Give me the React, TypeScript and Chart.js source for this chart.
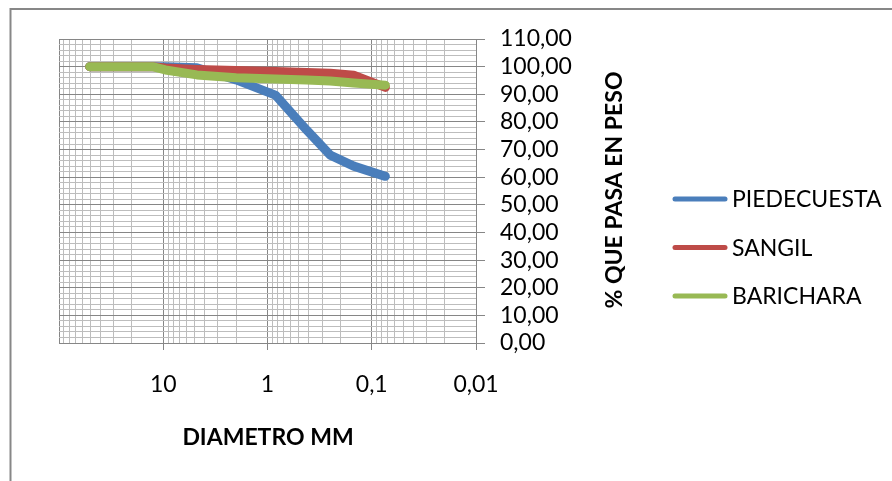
import { useEffect, useRef } from 'react';
import { Chart, registerables } from 'chart.js';

Chart.register(...registerables);

// ---- data ----
const sieveSizesMm = [50.8, 38.1, 25.4, 19.05, 12.7, 9.53, 4.76, 2.0, 0.84, 0.42, 0.25, 0.149, 0.074];
const piedecuesta = [100, 100, 100, 100, 100, 100, 99.6, 95.2, 89.7, 77, 68, 64, 60.3];
const sangil = [100, 100, 100, 100, 100, 99.5, 99, 98.6, 98.2, 97.9, 97.6, 96.9, 92.5];
const barichara = [100, 100, 100, 100, 100, 98.8, 97, 96, 95.5, 95.2, 94.8, 94.1, 93.3];
const seriesNames = ['PIEDECUESTA', 'SANGIL', 'BARICHARA'];
const seriesColors = ['#4a7ebb', '#be4b48', '#98b954'];
const xDecadeTicks = [100, 10, 1, 0.1, 0.01];
const xDecadeLabels = ['', '10', '1', '0,1', '0,01'];
const yMin = 0;
const yMax = 110;
const yMajorStep = 10;
const yMinorStep = 2;
const xTitle = 'DIAMETRO MM';
const yTitle = '% QUE PASA EN PESO';

const FONT = 'Lato, "Open Sans", sans-serif';
const MAJOR = '#868686';
const MINOR = '#bdbdbd';

const isDecade = (v: number) => {
  const l = Math.log10(v);
  return Math.abs(l - Math.round(l)) < 1e-9;
};

const buildXTicks = () => {
  const ticks: { value: number; major: boolean }[] = [];
  const decades = [...xDecadeTicks].sort((a, b) => a - b);
  for (let i = 0; i < decades.length; i++) {
    const d = decades[i];
    ticks.push({ value: d, major: true });
    if (i < decades.length - 1) {
      for (let m = 2; m <= 9; m++) ticks.push({ value: d * m, major: false });
    }
  }
  return ticks;
};

const buildYTicks = () => {
  const ticks: { value: number; major: boolean }[] = [];
  for (let v = yMin; v <= yMax; v += yMinorStep) ticks.push({ value: v, major: v % yMajorStep === 0 });
  return ticks;
};

const xLabel = (v: number) => {
  for (let i = 0; i < xDecadeTicks.length; i++) {
    if (Math.abs(Math.log10(v) - Math.log10(xDecadeTicks[i])) < 1e-6) return xDecadeLabels[i];
  }
  return '';
};

const decorPlugin = {
  id: 'decor',
  beforeDraw(chart: any) {
    const { ctx, width, height } = chart;
    ctx.save();
    ctx.fillStyle = '#ffffff';
    ctx.fillRect(0, 0, width, height);
    ctx.strokeStyle = '#878787';
    ctx.lineWidth = 2;
    ctx.beginPath();
    ctx.moveTo(10.5, height);
    ctx.lineTo(10.5, 9);
    ctx.lineTo(width, 9);
    ctx.stroke();
    ctx.restore();
  },
  afterDraw(chart: any) {
    const { ctx } = chart;
    ctx.save();
    ctx.fillStyle = '#000';
    // x title
    ctx.font = `bold 23px ${FONT}`;
    ctx.textAlign = 'center';
    ctx.textBaseline = 'alphabetic';
    ctx.fillText(xTitle, 268, 445);
    // y title
    ctx.save();
    ctx.translate(622, 190);
    ctx.rotate(-Math.PI / 2);
    ctx.fillText(yTitle, 0, 0);
    ctx.restore();
    // legend
    ctx.font = `23px ${FONT}`;
    ctx.textAlign = 'left';
    chart.data.datasets.forEach((ds: any, i: number) => {
      const y = 199 + i * 48.5;
      ctx.strokeStyle = ds.borderColor;
      ctx.lineWidth = 5;
      ctx.lineCap = 'round';
      ctx.beginPath();
      ctx.moveTo(675, y);
      ctx.lineTo(725, y);
      ctx.stroke();
      ctx.fillStyle = '#000';
      ctx.fillText(ds.label, 732, y + 8);
    });
    ctx.restore();
  },
};

export default function App() {
  const ref = useRef<HTMLCanvasElement | null>(null);
  useEffect(() => {
    if (!ref.current) return;
    const series = [piedecuesta, sangil, barichara];
    const chart = new Chart(ref.current, {
      type: 'line',
      data: {
        datasets: series.map((vals, i) => ({
          label: seriesNames[i],
          data: sieveSizesMm.map((x, j) => ({ x, y: vals[j] })),
          borderColor: seriesColors[i],
          backgroundColor: seriesColors[i],
          borderWidth: 9,
          borderCapStyle: 'round',
          borderJoinStyle: 'round',
          pointRadius: 0,
          tension: 0,
          fill: false,
          order: series.length - 1 - i,
        })),
      },
      options: {
        animation: false,
        responsive: false,
        maintainAspectRatio: false,
        layout: { padding: { left: 59, top: 39, right: 296, bottom: 78 } },
        plugins: {
          legend: { display: false },
          tooltip: { enabled: false },
          title: { display: false },
        },
        scales: {
          x: {
            type: 'logarithmic',
            min: 0.01,
            max: 100,
            reverse: true,
            position: 'bottom',
            afterFit: (s: any) => {
              s.height = 60;
            },
            afterBuildTicks: (s: any) => {
              s.ticks = buildXTicks();
            },
            ticks: {
              autoSkip: false,
              maxRotation: 0,
              minRotation: 0,
              padding: 21,
              color: '#000',
              font: { family: FONT, size: 23 },
              callback: (v: any) => xLabel(Number(v)),
            },
            grid: {
              lineWidth: 1,
              tickLength: 7,
              color: (c: any) => (c.tick && isDecade(c.tick.value) ? MAJOR : MINOR),
              tickColor: (c: any) =>
                c.tick && isDecade(c.tick.value) && Math.abs(c.tick.value - 100) > 1e-6 ? MAJOR : 'rgba(0,0,0,0)',
            },
            border: { display: true, color: MAJOR, width: 1 },
          },
          y: {
            type: 'linear',
            position: 'right',
            min: yMin,
            max: yMax,
            afterFit: (s: any) => {
              s.width = 120;
            },
            afterBuildTicks: (s: any) => {
              s.ticks = buildYTicks();
            },
            ticks: {
              autoSkip: false,
              padding: 15,
              color: '#000',
              font: { family: FONT, size: 23 },
              callback: (v: any) =>
                Number(v) % yMajorStep === 0 ? Number(v).toFixed(2).replace('.', ',') : '',
            },
            grid: {
              lineWidth: 1,
              tickLength: 9,
              color: (c: any) => (c.tick && c.tick.value % yMajorStep === 0 ? MAJOR : MINOR),
              tickColor: (c: any) => (c.tick && c.tick.value % yMajorStep === 0 ? MAJOR : 'rgba(0,0,0,0)'),
            },
            border: { display: true, color: MAJOR, width: 1 },
          },
        },
      },
      plugins: [decorPlugin],
    } as any);
    return () => chart.destroy();
  }, []);
  return (
    <div style={{ position: 'absolute', left: 0, top: 0, width: 892, height: 481 }}>
      <canvas ref={ref} width={892} height={481} style={{ display: 'block', width: 892, height: 481 }} />
    </div>
  );
}
